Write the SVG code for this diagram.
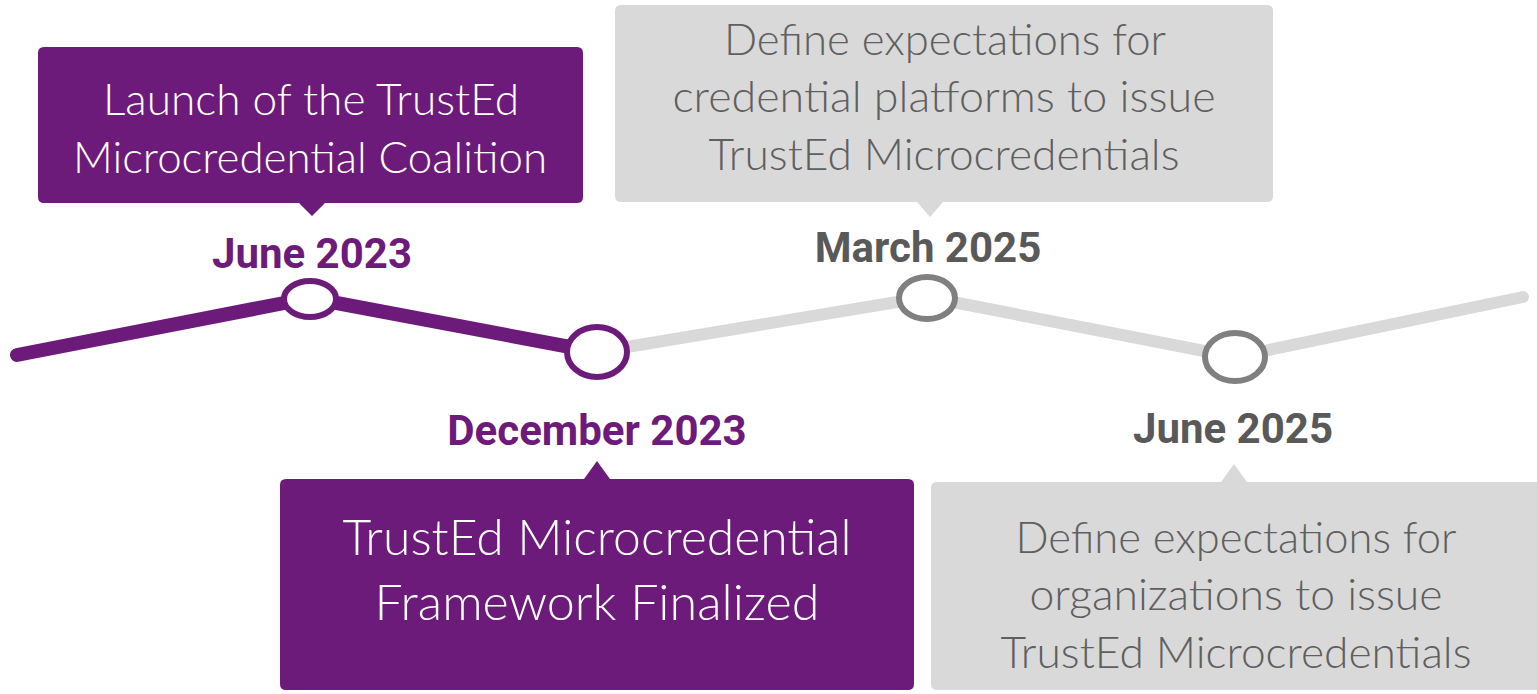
<svg xmlns="http://www.w3.org/2000/svg" width="1537" height="694" viewBox="0 0 1537 694">
  <style>
    .box-purple { fill: #6d1b7b; }
    .box-gray { fill: #d9d9d9; }
    .txt { font-family: Lato, "Open Sans", sans-serif; font-weight: 300; text-anchor: middle; }
    .txt-light { fill: #ffffff; }
    .txt-dark { fill: #5f5f5f; }
    .date { font-family: Roboto, "Liberation Sans", sans-serif; font-weight: 700; font-size: 42px; text-anchor: middle; }
    .date-purple { fill: #6d1b7b; }
    .date-gray { fill: #595959; }
    .dot-purple { fill: #ffffff; stroke: #6d1b7b; stroke-width: 6; }
    .dot-gray { fill: #ffffff; stroke: #808080; stroke-width: 6; }
  </style>

  <!-- timeline -->
  <g id="connectors" fill="none" stroke-linecap="round" stroke-linejoin="round">
    <polyline points="597,352 927,297 1235,357 1523,297" stroke="#d9d9d9" stroke-width="12"/>
    <polyline points="17,355 310,298 597,352" stroke="#6d1b7b" stroke-width="14"/>
  </g>

  <!-- milestone: June 2023 -->
  <g id="june-2023">
    <path class="box-purple" d="M44,47 H577 Q583,47 583,53 V197 Q583,203 577,203 H325 L312,216 L299,203 H44 Q38,203 38,197 V53 Q38,47 44,47 Z"/>
    <text class="txt txt-light" font-size="43" x="311" y="115" textLength="416" lengthAdjust="spacingAndGlyphs">Launch of the TrustEd</text>
    <text class="txt txt-light" font-size="43" x="310" y="173" textLength="474" lengthAdjust="spacingAndGlyphs">Microcredential Coalition</text>
    <text class="date date-purple" x="312" y="268">June 2023</text>
    <ellipse class="dot-purple" cx="310" cy="299" rx="26" ry="18"/>
  </g>

  <!-- milestone: December 2023 -->
  <g id="december-2023">
    <path class="box-purple" d="M286,479 H584 L597,461 L610,479 H908 Q914,479 914,485 V684 Q914,690 908,690 H286 Q280,690 280,684 V485 Q280,479 286,479 Z"/>
    <text class="txt txt-light" font-size="49" x="597" y="555" textLength="509" lengthAdjust="spacingAndGlyphs">TrustEd Microcredential</text>
    <text class="txt txt-light" font-size="49" x="597" y="620" textLength="445" lengthAdjust="spacingAndGlyphs">Framework Finalized</text>
    <text class="date date-purple" x="597" y="445">December 2023</text>
    <ellipse class="dot-purple" cx="597" cy="352" rx="30" ry="25"/>
  </g>

  <!-- milestone: March 2025 -->
  <g id="march-2025">
    <path class="box-gray" d="M621,5 H1267 Q1273,5 1273,11 V196 Q1273,202 1267,202 H943 L930,217 L917,202 H621 Q615,202 615,196 V11 Q615,5 621,5 Z"/>
    <text class="txt txt-dark" font-size="43" x="945" y="55" textLength="442" lengthAdjust="spacingAndGlyphs">Define expectations for</text>
    <text class="txt txt-dark" font-size="43" x="944" y="112" textLength="543" lengthAdjust="spacingAndGlyphs">credential platforms to issue</text>
    <text class="txt txt-dark" font-size="43" x="944" y="170" textLength="471" lengthAdjust="spacingAndGlyphs">TrustEd Microcredentials</text>
    <text class="date date-gray" x="928" y="262">March 2025</text>
    <ellipse class="dot-gray" cx="927" cy="298" rx="28" ry="21"/>
  </g>

  <!-- milestone: June 2025 -->
  <g id="june-2025">
    <path class="box-gray" d="M937,482 H1221 L1234,464 L1247,482 H1537 V690 H937 Q931,690 931,684 V488 Q931,482 937,482 Z"/>
    <text class="txt txt-dark" font-size="43" x="1236" y="553" textLength="441" lengthAdjust="spacingAndGlyphs">Define expectations for</text>
    <text class="txt txt-dark" font-size="43" x="1236" y="610" textLength="413" lengthAdjust="spacingAndGlyphs">organizations to issue</text>
    <text class="txt txt-dark" font-size="43" x="1236" y="668" textLength="471" lengthAdjust="spacingAndGlyphs">TrustEd Microcredentials</text>
    <text class="date date-gray" x="1233" y="443">June 2025</text>
    <ellipse class="dot-gray" cx="1235" cy="357" rx="30" ry="24"/>
  </g>
</svg>
